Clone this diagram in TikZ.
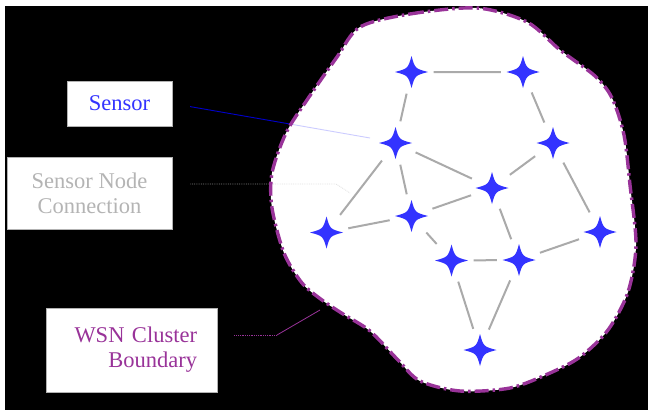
\documentclass[tikz,border=0pt]{standalone}
\usepackage{fontspec}
\setmainfont{Liberation Serif}

\definecolor{starblue}{HTML}{3333FF}
\definecolor{wsnpurple}{HTML}{993399}
\definecolor{linkgray}{HTML}{AAAAAA}
\definecolor{conngray}{HTML}{B4B4B4}

\def\clusterpath{plot[smooth cycle] coordinates {(360,27) (410,14) (477,8) (527,22) (560,50) (595,76) (612,98) (624,135) (630,185) (636,245) (628,292) (608,330) (580,357) (550,373) (510,388) (460,391) (420,381) (398,360) (370,331) (343,314) (322,300) (302,283) (284,253) (272,208) (272,173) (286,133) (307,100) (337,57)}}

\tikzset{
  sensor/.style={circle, minimum size=44pt, inner sep=0pt, fill=white,
    path picture={
      \fill[starblue, shift={(path picture bounding box.center)}]
        (16.5pt,0) .. controls (3.5pt,3.5pt) .. (0,16pt)
        .. controls (-3.5pt,3.5pt) .. (-16.5pt,0)
        .. controls (-3.5pt,-3.5pt) .. (0,-16pt)
        .. controls (3.5pt,-3.5pt) .. cycle;}},
  link/.style={linkgray, line width=2pt},
  lbl/.style={draw=gray!60, fill=white, line width=0.8pt, inner sep=0pt,
    font=\fontsize{22.5}{25}\selectfont},
  boundary/.style={wsnpurple, line width=3.4pt,
    dash pattern=on 14pt off 4pt on 2.5pt off 4pt}
}

\begin{document}
\begin{tikzpicture}[x=1pt, y=-1pt]
  \fill[white] (0,0) rectangle (648,410);
  \fill[black] (5,6) rectangle (648,410);

  \node[lbl, text=starblue, minimum width=105pt, minimum height=45pt] (lsensor) at (119.5,103.5) {Sensor};
  \node[lbl, text=conngray, minimum width=165pt, minimum height=72pt, align=center] (lconn) at (89.5,193) {Sensor Node\\Connection};
  \node[lbl, text=wsnpurple, text width=131pt, inner xsep=20pt, minimum height=84pt, align=right] (lwsn) at (131.5,350) {WSN Cluster\\Boundary};

  \coordinate (psensor) at (370,138);
  \coordinate (pconn1) at (336,184);
  \coordinate (pconn2) at (350,193);
  \coordinate (pwsn1) at (277,335);
  \coordinate (pwsn2) at (320,310);

  \draw[blue!80!black, line width=0.9pt, shorten <=18pt] (lsensor.east) -- (psensor);
  \draw[gray, line width=0.8pt, densely dotted] ([xshift=18pt, yshift=9pt]lconn.east) -- (pconn1) -- (pconn2);
  \draw[wsnpurple, line width=0.8pt, densely dotted] ([xshift=17pt, yshift=15pt]lwsn.east) -- (pwsn1);
  \draw[wsnpurple, line width=0.8pt] (pwsn1) -- (pwsn2);

  \fill[white] \clusterpath;
  \begin{scope}
    \clip \clusterpath;
    \draw[blue!20, line width=0.9pt, shorten <=18pt] (lsensor.east) -- (psensor);
    \draw[black!12, line width=0.8pt, densely dotted] ([xshift=18pt, yshift=9pt]lconn.east) -- (pconn1) -- (pconn2);
  \end{scope}
  \draw[boundary] \clusterpath;

  \node[sensor] (s1) at (411.5,72) {};
  \node[sensor] (s2) at (523,72) {};
  \node[sensor] (s3) at (395.5,143) {};
  \node[sensor] (s4) at (553,143) {};
  \node[sensor] (s5) at (492,188) {};
  \node[sensor] (s6) at (411.5,216) {};
  \node[sensor] (s7) at (326.5,232.5) {};
  \node[sensor] (s8) at (600,232) {};
  \node[sensor] (s9) at (451.5,260.5) {};
  \node[sensor] (s10) at (519,260) {};
  \node[sensor] (s11) at (480,350) {};

  \draw[link] (s1) -- (s2)  (s1) -- (s3)  (s2) -- (s4)
    (s3) -- (s5)  (s3) -- (s6)  (s3) -- (s7)
    (s4) -- (s5)  (s4) -- (s8)  (s5) -- (s6)
    (s5) -- (s10)  (s6) -- (s7)  (s6) -- (s9)
    (s9) -- (s10)  (s10) -- (s8)  (s9) -- (s11)
    (s10) -- (s11);
\end{tikzpicture}
\end{document}
